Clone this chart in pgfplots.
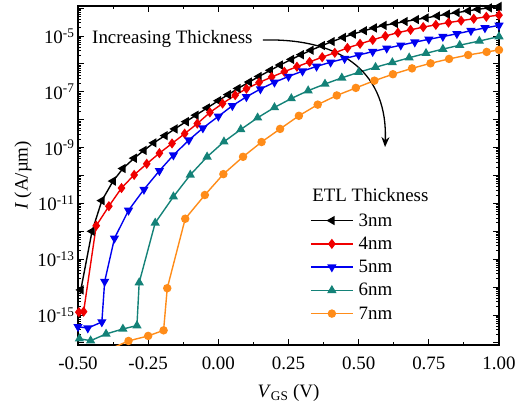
\documentclass[border=0pt]{standalone}
\usepackage{fontspec}
\setmainfont{Liberation Serif}
\usepackage{pgfplots}
\pgfplotsset{compat=1.18}
\usetikzlibrary{arrows.meta}
\newcommand\fs{\fontsize{19}{22}\selectfont}
\definecolor{cRed}{RGB}{240,0,0}
\definecolor{cBlue}{RGB}{0,0,240}
\definecolor{cTeal}{RGB}{20,130,120}
\definecolor{cOrange}{RGB}{255,140,25}
\def\mylist{}
\foreach \e in {-17,...,-5}{\foreach \m in {2,...,9}{\xdef\mylist{\mylist\m e\e,}}}
\begin{document}
\begin{tikzpicture}
\begin{axis}[
  scale only axis, width=421bp, height=339bp,
  xmin=-0.5, xmax=1.0, ymode=log, ymin=8.4e-17, ymax=1.19e-4,
  xtick={-0.5,-0.25,0,0.25,0.5,0.75,1.0},
  xticklabels={-0.50,-0.25,0.00,0.25,0.50,0.75,1.00},
  minor x tick num=1,
  ytick={1e-16,1e-15,1e-14,1e-13,1e-12,1e-11,1e-10,1e-9,1e-8,1e-7,1e-6,1e-5,1e-4},
  yticklabels={{},{10\textsuperscript{-15}},{},{10\textsuperscript{-13}},{},{10\textsuperscript{-11}},{},{10\textsuperscript{-9}},{},{10\textsuperscript{-7}},{},{10\textsuperscript{-5}},{}},
  minor ytick/.expanded={\mylist 1e-3},
  tick align=inside, major tick length=6bp, minor tick length=3.5bp,
  tick style={black, line width=0.9bp},
  axis line style={line width=1.1bp},
  tick label style={font=\fs},
  xticklabel style={yshift=-8bp},
  xlabel={\textit{V}\textsubscript{GS} (V)},
  ylabel={\textit{I} (A/µm)},
  every axis x label/.style={at={(axis description cs:0.5,0)}, yshift=-48bp, anchor=center, font=\fs},
  every axis y label/.style={at={(axis description cs:0,0.5)}, xshift=-55bp, rotate=90, anchor=center, font=\fs},
  every axis plot/.append style={line width=1.4bp},
  legend image code/.code={\draw[mark repeat=2,mark phase=2] plot coordinates {(0bp,0bp) (21bp,0bp) (42bp,0bp)};},
  legend style={at={(axis cs:0.3265,4.4e-12)}, anchor=north west, draw=none, fill=none, font=\fs,
    inner sep=0pt, row sep=9.3bp, nodes={inner sep=0pt},
    /tikz/every odd column/.append style={column sep=5bp}},
  legend cell align=left,
]
\addplot[black, mark=triangle*, mark size=4bp, mark options={rotate=90}] coordinates {
(-0.49,7.94e-15) (-0.45,1.0e-12) (-0.415,1.26e-11) (-0.375,6.31e-11) (-0.34,1.78e-10)
(-0.30,4.17e-10) (-0.265,7.94e-10) (-0.23,1.48e-9) (-0.19,2.69e-9) (-0.155,4.68e-9)
(-0.115,8.51e-9) (-0.08,1.45e-8) (-0.04,2.63e-8) (0.00,4.79e-8) (0.035,7.94e-8)
(0.07,1.32e-7) (0.11,2.24e-7) (0.145,3.55e-7) (0.185,5.89e-7) (0.22,9.12e-7)
(0.26,1.45e-6) (0.295,2.14e-6) (0.33,3.09e-6) (0.37,4.57e-6) (0.405,6.31e-6)
(0.445,8.91e-6) (0.48,1.175e-5) (0.52,1.55e-5) (0.555,1.95e-5) (0.59,2.40e-5)
(0.63,2.82e-5) (0.665,3.31e-5) (0.705,3.89e-5) (0.74,4.47e-5) (0.78,5.25e-5)
(0.815,6.03e-5) (0.85,6.92e-5) (0.89,7.94e-5) (0.925,9.12e-5) (0.965,1.02e-4) (1.00,1.15e-4)};
\addlegendentry{3nm}
\addplot[cRed, mark=diamond*, mark size=4bp] coordinates {
(-0.497,1.26e-15) (-0.48,1.32e-15) (-0.435,1.585e-12) (-0.39,7.94e-12) (-0.345,3.55e-11) (-0.30,1.05e-10)
(-0.255,2.63e-10) (-0.21,6.31e-10) (-0.165,1.41e-9) (-0.12,3.16e-9) (-0.075,7.24e-9)
(-0.03,1.82e-8) (0.015,3.80e-8) (0.06,7.59e-8) (0.10,1.29e-7) (0.145,2.14e-7)
(0.19,3.39e-7) (0.235,5.25e-7) (0.28,7.94e-7) (0.325,1.175e-6) (0.37,1.74e-6)
(0.415,2.51e-6) (0.46,3.72e-6) (0.505,5.25e-6) (0.55,7.24e-6) (0.595,1.0e-5)
(0.64,1.32e-5) (0.685,1.66e-5) (0.73,2.09e-5) (0.775,2.51e-5) (0.82,3.02e-5)
(0.865,3.55e-5) (0.91,4.17e-5) (0.955,4.90e-5) (1.00,5.62e-5)};
\addlegendentry{4nm}
\addplot[cBlue, mark=triangle*, mark size=4bp, mark options={rotate=180}] coordinates {
(-0.50,3.80e-16) (-0.465,3.39e-16) (-0.415,5.62e-16) (-0.405,1.585e-14) (-0.37,5.62e-13)
(-0.32,5.62e-12) (-0.265,3.16e-11) (-0.21,1.48e-10) (-0.16,5.37e-10) (-0.105,1.86e-9)
(-0.055,5.01e-9) (0.00,1.32e-8) (0.05,3.16e-8) (0.10,6.61e-8) (0.15,1.26e-7)
(0.20,2.19e-7) (0.25,3.55e-7) (0.30,5.50e-7) (0.35,8.13e-7) (0.40,1.15e-6)
(0.45,1.55e-6) (0.50,2.09e-6) (0.55,2.75e-6) (0.60,3.63e-6) (0.65,4.68e-6)
(0.70,6.03e-6) (0.75,7.59e-6) (0.80,9.55e-6) (0.85,1.20e-5) (0.90,1.55e-5)
(0.95,1.95e-5) (1.00,2.40e-5)};
\addlegendentry{5nm}
\addplot[cTeal, mark=triangle*, mark size=4bp] coordinates {
(-0.495,1.41e-16) (-0.455,1.20e-16) (-0.40,2.09e-16) (-0.34,3.16e-16) (-0.29,4.17e-16)
(-0.282,1.45e-14) (-0.225,2.0e-12) (-0.16,1.74e-11) (-0.10,1.05e-10) (-0.04,4.68e-10)
(0.02,1.62e-9) (0.08,4.47e-9) (0.14,1.175e-8) (0.20,2.75e-8) (0.26,5.75e-8)
(0.32,1.10e-7) (0.38,1.905e-7) (0.44,3.16e-7) (0.50,5.01e-7) (0.56,7.59e-7)
(0.62,1.12e-6) (0.68,1.66e-6) (0.74,2.40e-6) (0.80,3.39e-6) (0.86,4.68e-6)
(0.93,6.61e-6) (1.00,9.55e-6)};
\addlegendentry{6nm}
\addplot[cOrange, mark=*, mark size=3.5bp] coordinates {
(-0.37,7.08e-17) (-0.32,1.175e-16) (-0.25,1.78e-16) (-0.195,2.82e-16) (-0.182,9.12e-15)
(-0.118,2.82e-12) (-0.048,2.0e-11) (0.018,1.12e-10) (0.088,4.68e-10) (0.154,1.585e-9)
(0.22,4.68e-9) (0.287,1.38e-8) (0.354,3.47e-8) (0.422,7.41e-8) (0.49,1.38e-7)
(0.556,2.51e-7) (0.622,4.27e-7) (0.69,6.92e-7) (0.756,1.05e-6) (0.822,1.51e-6)
(0.89,2.09e-6) (0.956,2.69e-6) (1.00,3.16e-6)};
\addlegendentry{7nm}
\node[anchor=west, font=\fs, inner sep=0pt] at (axis cs:-0.45,7.8e-6) {Increasing Thickness};
\node[anchor=west, font=\fs, inner sep=0pt] at (axis cs:0.334,2e-11) {ETL Thickness};
\draw[black, line width=1.3bp, -{Stealth[length=10bp,width=8bp]}] (axis cs:0.159,7.19e-6) .. controls (axis cs:0.451,8.47e-6) and (axis cs:0.604,3.98e-7) .. (axis cs:0.594,1.05e-9);
\end{axis}
\pgfresetboundingbox
\path (current axis.south west) ++(-78bp,-62bp) rectangle ++(523bp,407bp);
\end{tikzpicture}
\end{document}
